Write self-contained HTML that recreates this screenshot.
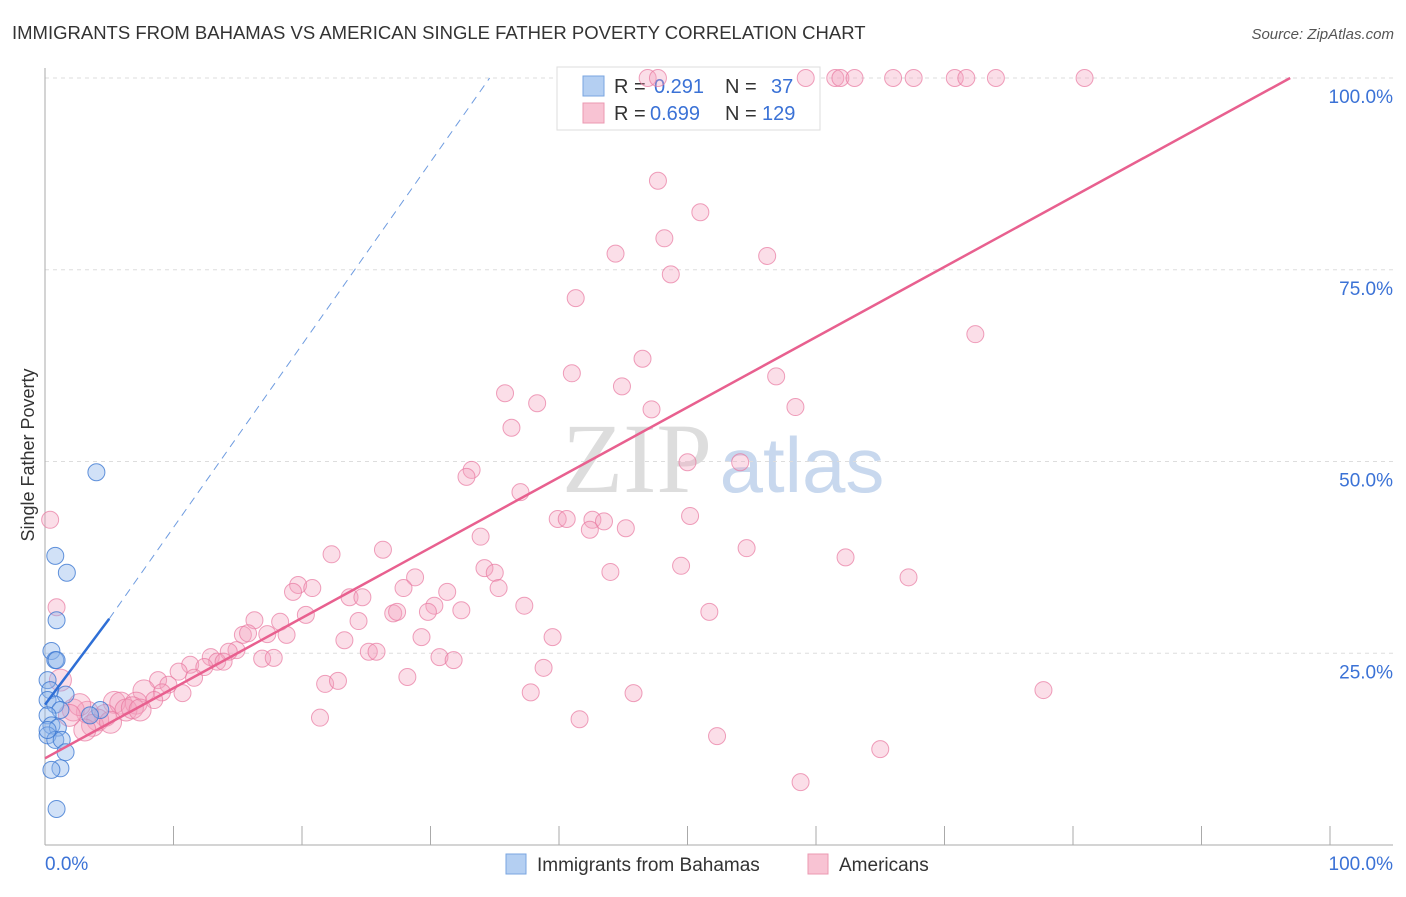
<!DOCTYPE html>
<html><head><meta charset="utf-8"><style>
body{margin:0;background:#fff;font-family:"Liberation Sans",sans-serif}
</style></head><body>
<svg id="c" width="1406" height="892" xmlns="http://www.w3.org/2000/svg">
<text x="12" y="39" font-size="18.5" fill="#333">IMMIGRANTS FROM BAHAMAS VS AMERICAN SINGLE FATHER POVERTY CORRELATION CHART</text>
<text x="1394" y="39" font-size="15" fill="#555" font-style="italic" text-anchor="end">Source: ZipAtlas.com</text>
<text x="34" y="455" font-size="18" fill="#333" transform="rotate(-90 34 455)" text-anchor="middle">Single Father Poverty</text>
<g><text x="637" y="492" font-size="100" font-family="Liberation Serif" fill="#ddd" text-anchor="middle">ZIP</text><text x="802" y="492" font-size="78" fill="#c8d8ee" text-anchor="middle">atlas</text></g>
<g id="grid"></g><g id="axes"></g>
<g>
<rect x="557" y="67" width="263" height="63" fill="#fff" stroke="#ddd"/>
<rect x="583" y="76" width="21" height="20" fill="#b4cff2" stroke="#7aa6e0"/>
<rect x="583" y="103" width="21" height="20" fill="#f8c3d3" stroke="#eb98b2"/>
<text x="614" y="93" font-size="20" fill="#333">R = </text><text x="654" y="93" font-size="20" fill="#3b72d6">0.291</text>
<text x="725" y="93" font-size="20" fill="#333">N = </text><text x="771" y="93" font-size="20" fill="#3b72d6">37</text>
<text x="614" y="120" font-size="20" fill="#333">R = </text><text x="650" y="120" font-size="20" fill="#3b72d6">0.699</text>
<text x="725" y="120" font-size="20" fill="#333">N = </text><text x="762" y="120" font-size="20" fill="#3b72d6">129</text>
</g>
<g id="pts"></g><g id="lines"></g>
<g>
<rect x="506" y="854" width="20" height="20" fill="#b4cff2" stroke="#7aa6e0"/>
<text x="537" y="871" font-size="19" fill="#333">Immigrants from Bahamas</text>
<rect x="808" y="854" width="20" height="20" fill="#f8c3d3" stroke="#eb98b2"/>
<text x="839" y="871" font-size="19" fill="#333">Americans</text>
</g>
</svg>
<script>
const yTicks=[25,50,75,100];
const xTickLabels=["0.0%","100.0%"];
const blueX=[4.0,0.8,1.7,0.9,0.5,0.8,0.9,0.2,0.4,1.6,0.2,0.8,1.2,4.3,0.2,0.5,1.0,0.2,0.8,1.3,1.6,1.2,0.5,0.9,0.2,3.5];
const blueY=[48.6,37.7,35.5,29.3,25.3,24.1,24.1,21.5,20.2,19.6,18.9,18.3,17.6,17.6,16.9,15.6,15.3,14.3,13.7,13.7,12.1,10.0,9.8,4.7,15.0,16.9];
const pinkX=[46.9,47.7,59.2,61.5,61.9,63.0,66.0,67.6,70.8,71.7,74.0,80.9,47.7,51.0,48.2,44.4,56.2,48.7,41.3,72.4,46.5,41.0,56.9,44.9,35.8,38.3,47.2,58.4,36.3,50.0,54.1,33.2,32.8,37.0,0.4,39.9,40.6,42.6,43.5,42.4,45.2,50.2,33.9,54.6,22.3,26.3,62.3,34.2,35.0,44.0,49.5,67.2,28.8,19.7,20.8,27.9,19.3,31.3,35.3,23.7,24.7,30.3,37.3,0.9,32.4,27.1,27.4,29.8,20.3,51.7,16.3,18.3,24.4,15.4,15.8,18.8,17.3,23.3,29.3,39.5,14.9,14.3,25.2,25.8,16.9,17.8,30.7,31.8,12.9,13.4,13.9,11.3,12.4,10.4,38.8,11.6,8.8,9.6,1.2,21.8,22.8,28.2,7.7,9.1,10.7,37.8,45.8,77.7,5.4,5.9,7.1,8.5,6.3,6.8,7.4,4.7,3.3,2.2,2.7,4.1,3.7,3.1,1.9,21.4,41.6,52.3,65.0,58.8,5.1];
const pinkY=[100,100,100,100,100,100,100,100,100,100,100,100,86.6,82.5,79.1,77.1,76.8,74.4,71.3,66.6,63.4,61.5,61.1,59.8,58.9,57.6,56.8,57.1,54.4,49.9,49.9,48.9,48.0,46.0,42.4,42.5,42.5,42.4,42.2,41.1,41.3,42.9,40.2,38.7,37.9,38.5,37.5,36.1,35.5,35.6,36.4,34.9,34.9,33.9,33.5,33.5,33.0,33.0,33.5,32.3,32.3,31.2,31.2,31.0,30.6,30.2,30.4,30.4,30.0,30.4,29.3,29.1,29.2,27.4,27.6,27.4,27.5,26.7,27.1,27.1,25.4,25.2,25.2,25.2,24.3,24.4,24.5,24.1,24.5,23.9,23.9,23.5,23.2,22.6,23.1,21.8,21.5,20.9,21.5,21.0,21.4,21.9,20.1,19.9,19.8,19.9,19.8,20.2,18.6,18.5,18.5,18.9,17.6,17.9,17.6,16.9,17.3,17.6,18.3,16.3,15.6,15.0,16.9,16.6,16.4,14.2,12.5,8.2,16.0];
const blueFit=[[0,18.3],[5,29.5]];
const blueDash=[[5,29.5],[34.6,100]];
const pinkFit=[[0,11.3],[96.9,100]];
const NS="http://www.w3.org/2000/svg";
const sx=v=>45+v*12.85, sy=v=>845-v*7.67;
function mk(t,a,p){const e=document.createElementNS(NS,t);for(const k in a)e.setAttribute(k,a[k]);p.appendChild(e);return e;}
const grid=document.getElementById('grid'),axes=document.getElementById('axes'),pts=document.getElementById('pts'),lines=document.getElementById('lines');
yTicks.forEach(t=>{const l=mk('line',{x1:45,x2:1393,y1:sy(t),y2:sy(t),stroke:'#ddd','stroke-dasharray':'4,4'},grid);


const tx=mk('text',{x:1393,y:sy(t)+25,'font-size':19,fill:'#3b72d6','text-anchor':'end'},axes);tx.textContent=t.toFixed(1)+'%';

});
const ax=mk('line',{x1:45,x2:45,y1:68,y2:845,stroke:'#aaa'},axes);


const bx=mk('line',{x1:45,x2:1393,y1:845,y2:845,stroke:'#aaa'},axes);


for(let i=0;i<=10;i++){const t=mk('line',{x1:sx(i*10),x2:sx(i*10),y1:826,y2:845,stroke:'#aaa'},axes);

}
[[0,'start'],[100,'end']].forEach((d,i)=>{const t=mk('text',{x:i?1393:45,y:870,'font-size':19,fill:'#3b72d6','text-anchor':d[1]},axes);t.textContent=xTickLabels[i];

});
pinkX.forEach((x,i)=>{const big=x<8&&pinkY[i]<22;const c=mk('circle',{cx:sx(x),cy:sy(pinkY[i]),r:big?11:8.5,fill:'rgba(244,160,188,0.35)',stroke:'rgba(232,120,160,0.7)','stroke-width':1},pts);

});
blueX.forEach((x,i)=>{const c=mk('circle',{cx:sx(x),cy:sy(blueY[i]),r:8.5,fill:'rgba(140,180,235,0.4)',stroke:'rgba(60,120,210,0.8)','stroke-width':1},pts);

});
const pl=mk('line',{x1:sx(pinkFit[0][0]),y1:sy(pinkFit[0][1]),x2:sx(pinkFit[1][0]),y2:sy(pinkFit[1][1]),stroke:'#e8608f','stroke-width':2.5},lines);


const bl=mk('line',{x1:sx(blueFit[0][0]),y1:sy(blueFit[0][1]),x2:sx(blueFit[1][0]),y2:sy(blueFit[1][1]),stroke:'#2f6fd6','stroke-width':2.5},lines);


const bd=mk('line',{x1:sx(blueDash[0][0]),y1:sy(blueDash[0][1]),x2:sx(blueDash[1][0]),y2:sy(blueDash[1][1]),stroke:'#6f9ce0','stroke-width':1,'stroke-dasharray':'8,6'},lines);


</script>
</body></html>
